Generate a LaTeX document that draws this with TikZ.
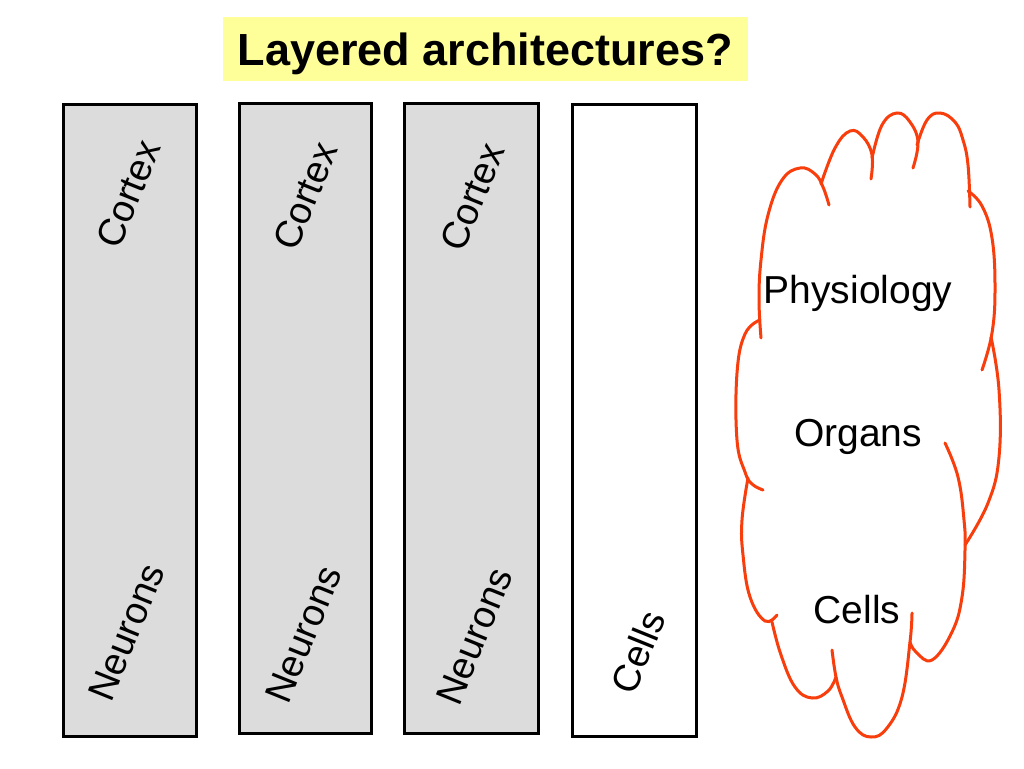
\documentclass[tikz,border=0pt]{standalone}
\usepackage{fontspec}
\setmainfont{Liberation Sans}
\definecolor{boxgrey}{RGB}{220,220,220}
\definecolor{titleyellow}{RGB}{255,255,153}
\definecolor{cloudred}{RGB}{248,62,12}
\tikzset{
  layer/.style={draw=black, line width=3pt, fill=boxgrey, inner sep=0pt},
  whitelayer/.style={draw=black, line width=3pt, fill=white, inner sep=0pt},
  lbl/.style={font=\fontsize{39}{44}\selectfont, inner sep=0pt, text height=27pt, text depth=0pt},
  rlbl/.style={font=\fontsize{38}{43}\selectfont, inner sep=0pt, text height=27pt, text depth=0pt, rotate=68},
  bump/.style={draw=cloudred, line width=3pt, line cap=round},
}
\begin{document}
\begin{tikzpicture}[x=1pt,y=-1pt]
\useasboundingbox[fill=white] (0,0) rectangle (1024,768);
% title
\node[fill=titleyellow, minimum width=525pt, minimum height=64pt, inner sep=0pt,
      font=\fontsize{45}{50}\selectfont\bfseries, text height=32pt, text depth=0pt]
      (title) at (485.5,49) {Layered architectures?};
% layers
\node[layer, minimum width=133pt, minimum height=632pt] (r1) at (129.5,420) {};
\node[layer, minimum width=132pt, minimum height=630pt] (r2) at (305,418) {};
\node[layer, minimum width=134pt, minimum height=630pt] (r3) at (471,418) {};
\node[whitelayer, minimum width=124pt, minimum height=632pt] (r4) at (634,420) {};
\node[rlbl] (c1) at (128,194) {Cortex};
\node[rlbl] (c2) at (305,196) {Cortex};
\node[rlbl] (c3) at (472,197) {Cortex};
\node[rlbl] (n1) at (126,632) {Neurons};
\node[rlbl] (n2) at (303,634) {Neurons};
\node[rlbl] (n3) at (474,636) {Neurons};
\node[rlbl] (ce) at (638,652) {Cells};
% cloud
\draw[bump] plot[smooth, tension=0.7] coordinates {(761,338) (759,300) (761,260) (768,215) (782,180) (800,168) (815,174) (823,187) (829,205)};
\draw[bump] plot[smooth, tension=0.7] coordinates {(821,184) (835,148) (850,131) (863,137) (872,155) (871,179)};
\draw[bump] plot[smooth, tension=0.7] coordinates {(872,158) (882,125) (897,113) (910,122) (918,142) (913,168)};
\draw[bump] plot[smooth, tension=0.7] coordinates {(917,145) (927,120) (940,113) (955,122) (963,140) (968,165) (970,207)};
\draw[bump] plot[smooth, tension=0.7] coordinates {(968,191) (982,206) (992,238) (995,288) (992,333) (982,370)};
\draw[bump] plot[smooth, tension=0.7] coordinates {(991,337) (999,390) (999,457) (988,503) (965,545)};
\draw[bump] plot[smooth, tension=0.7] coordinates {(945,443) (958,477) (964,520) (965,550) (962,597) (952,632) (932,660) (916,652) (910,642)};
\draw[bump] plot[smooth, tension=0.7] coordinates {(912,613) (910,642) (902,697) (887,728) (871,737) (855,727) (842,697) (836,677) (832,650)};
\draw[bump] plot[smooth, tension=0.7] coordinates {(836,677) (828,691) (812,698) (795,687) (781,655) (772,622)};
\draw[bump] plot[smooth, tension=0.7] coordinates {(748,478) (742,520) (743,555) (750,597) (765,621) (777,615)};
\draw[bump] plot[smooth, tension=0.7] coordinates {(760,320) (745,334) (737,373) (737,440) (745,472) (752,484) (763,490)};
\node[lbl] (phys) at (858,290) {Physiology};
\node[lbl] (org) at (858,433) {Organs};
\node[lbl] (cells) at (857,610) {Cells};
\end{tikzpicture}
\end{document}
